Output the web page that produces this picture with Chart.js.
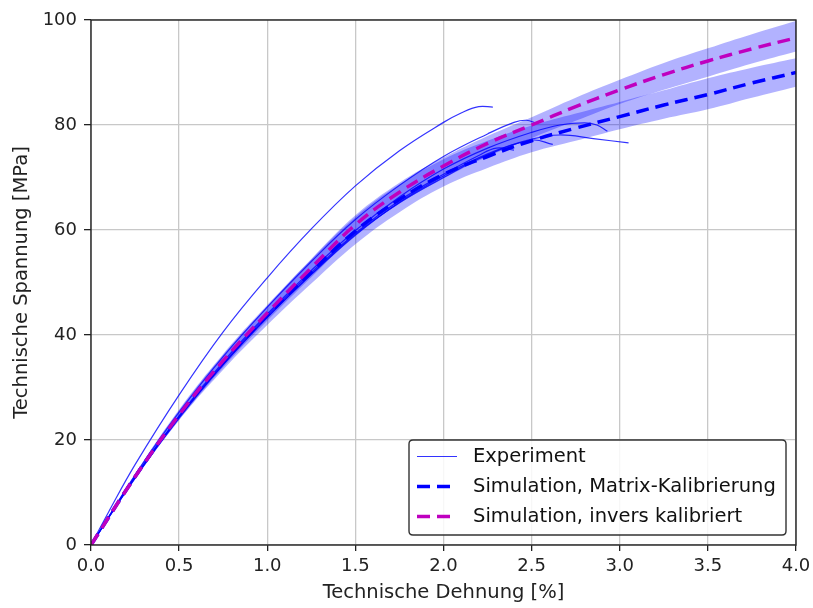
<!DOCTYPE html>
<html><head><meta charset="utf-8">
<script src="https://cdn.jsdelivr.net/npm/chart.js@4/dist/chart.umd.min.js"></script>
<style>html,body{margin:0;padding:0;background:#fff;}#wrap{width:813px;height:608px;}</style>
</head><body><div id="wrap"><canvas id="c" width="813" height="608"></canvas></div>
<script>
// ---------- data ----------
const xTickLabels = ['0.0','0.5','1.0','1.5','2.0','2.5','3.0','3.5','4.0'];
const yTickLabels = ['0','20','40','60','80','100'];

const simStrain      = [0, 0.25, 0.5, 0.75, 1.0, 1.25, 1.5, 1.75, 2.0, 2.25, 2.5, 2.75, 3.0, 3.25, 3.5, 3.75, 4.0];
const matrixSim      = [0, 13.0, 24.7, 34.8, 43.7, 52.0, 59.8, 65.8, 70.6, 74.0, 77.0, 79.4, 81.6, 83.8, 85.8, 88.0, 90.0];
const matrixLower    = [0, 12.5, 23.8, 33.4, 41.9, 49.8, 57.3, 63.4, 68.3, 71.8, 74.8, 77.0, 79.2, 81.2, 83.0, 85.2, 87.3];
const matrixUpper    = [0, 13.5, 25.6, 36.2, 45.5, 54.4, 62.5, 68.7, 73.5, 77.0, 79.9, 82.2, 84.4, 86.6, 88.9, 90.9, 92.7];
const inversSim      = [0, 13.0, 24.8, 35.1, 44.2, 52.8, 61.0, 67.2, 72.2, 76.5, 80.0, 83.5, 86.7, 89.6, 92.2, 94.5, 96.6];
const inversLower    = [0, 12.5, 23.8, 33.8, 42.7, 51.0, 59.0, 65.0, 69.8, 74.0, 77.5, 80.8, 84.0, 86.7, 89.2, 91.7, 94.0];
const inversUpper    = [0, 13.5, 25.8, 36.4, 45.7, 54.5, 62.8, 69.0, 73.8, 77.9, 81.5, 85.2, 88.6, 91.8, 94.6, 97.3, 99.8];

const exp1Strain = [0, 0.1, 0.25, 0.5, 0.75, 1.0, 1.25, 1.5, 1.75, 2.0, 2.1, 2.2, 2.28];
const exp1Stress = [0, 6.3, 15.3, 28.6, 40.6, 50.9, 60.2, 68.4, 75.1, 80.5, 82.3, 83.5, 83.4];
const exp2Strain = [0, 0.25, 0.5, 0.75, 1.0, 1.25, 1.5, 1.75, 2.0, 2.25, 2.4, 2.47, 2.53];
const exp2Stress = [0, 13.3, 25.3, 35.9, 45.3, 54.0, 62.0, 68.5, 74.0, 78.3, 80.5, 80.9, 80.3];
const exp3Strain = [0, 0.25, 0.5, 0.75, 1.0, 1.25, 1.5, 1.75, 2.0, 2.25, 2.5, 2.66, 2.8, 2.87, 2.93];
const exp3Stress = [0, 13.0, 24.6, 34.9, 44.0, 52.3, 59.9, 66.3, 71.6, 75.6, 78.6, 80.0, 80.4, 80.0, 78.8];
const exp4Strain = [0, 0.25, 0.5, 0.75, 1.0, 1.25, 1.5, 1.75, 2.0, 2.25, 2.5, 2.66, 2.85, 3.05];
const exp4Stress = [0, 12.8, 24.2, 34.3, 43.3, 51.5, 59.0, 65.3, 70.3, 74.5, 77.3, 78.1, 77.4, 76.6];
const exp5Strain = [0, 0.25, 0.5, 0.75, 1.0, 1.25, 1.5, 1.75, 2.0, 2.25, 2.5, 2.62];
const exp5Stress = [0, 12.8, 24.3, 34.4, 43.4, 51.6, 59.2, 65.2, 70.0, 74.3, 77.1, 76.3];
const exp6Strain = [0, 0.25, 0.5, 0.75, 1.0, 1.25, 1.5, 1.75, 2.0, 2.2, 2.3, 2.4];
const exp6Stress = [0, 13.0, 24.5, 34.6, 43.7, 51.9, 59.4, 65.6, 70.6, 74.2, 75.6, 75.2];

// ---------- build chart ----------
const pts = (xs, ys) => xs.map((x, i) => ({x: x, y: ys[i]}));
const FONT = "'DejaVu Sans', sans-serif";
const BAND = 'rgba(0,0,255,0.3)';
const EXP = 'rgba(0,0,255,0.8)';

const expSets = [
  [exp1Strain, exp1Stress], [exp2Strain, exp2Stress], [exp3Strain, exp3Stress],
  [exp4Strain, exp4Stress], [exp5Strain, exp5Stress], [exp6Strain, exp6Stress]
].map((e, i) => ({
  label: i === 0 ? 'Experiment' : '',
  legend: i === 0,
  data: pts(e[0], e[1]),
  borderColor: EXP, borderWidth: 1.2, pointRadius: 0, fill: false,
  tension: 0.4, order: 6
}));

const bandSet = (ys, fill) => ({
  label: '', data: pts(simStrain, ys), borderColor: 'rgba(0,0,0,0)', borderWidth: 0,
  pointRadius: 0, backgroundColor: BAND, fill: fill, tension: 0.4, order: 5
});

const datasets = [
  bandSet(matrixLower, false),
  bandSet(matrixUpper, '-1'),
  bandSet(inversLower, false),
  bandSet(inversUpper, '-1'),
  ...expSets,
  { label: 'Simulation, Matrix-Kalibrierung', legend: true, data: pts(simStrain, matrixSim),
    borderColor: '#0000ff', borderWidth: 3.5, borderDash: [13, 7], pointRadius: 0, fill: false,
    tension: 0.4, order: 2 },
  { label: 'Simulation, invers kalibriert', legend: true, data: pts(simStrain, inversSim),
    borderColor: '#bf00bf', borderWidth: 3.5, borderDash: [13, 7], pointRadius: 0, fill: false,
    tension: 0.4, order: 1 }
];

const framePlugin = {
  id: 'frame',
  afterDatasetsDraw(chart) {
    const {ctx, chartArea: a} = chart;
    ctx.save();
    ctx.strokeStyle = '#222'; ctx.lineWidth = 1.4;
    ctx.strokeRect(a.left, a.top, a.right - a.left, a.bottom - a.top);
    ctx.restore();
  },
  afterDraw(chart) {
    const {ctx} = chart;
    const items = chart.data.datasets.filter(d => d.legend);
    const bx = 409, by = 440, bw = 377, bh = 95, r = 4;
    ctx.save();
    ctx.beginPath();
    ctx.moveTo(bx + r, by); ctx.lineTo(bx + bw - r, by); ctx.quadraticCurveTo(bx + bw, by, bx + bw, by + r);
    ctx.lineTo(bx + bw, by + bh - r); ctx.quadraticCurveTo(bx + bw, by + bh, bx + bw - r, by + bh);
    ctx.lineTo(bx + r, by + bh); ctx.quadraticCurveTo(bx, by + bh, bx, by + bh - r);
    ctx.lineTo(bx, by + r); ctx.quadraticCurveTo(bx, by, bx + r, by);
    ctx.closePath();
    ctx.fillStyle = 'rgba(255,255,255,0.85)'; ctx.fill();
    ctx.strokeStyle = '#333'; ctx.lineWidth = 1.4; ctx.stroke();
    items.forEach((d, i) => {
      const y = 456.5 + i * 30;
      ctx.beginPath();
      ctx.strokeStyle = d.borderColor;
      ctx.lineWidth = d.borderWidth;
      ctx.setLineDash(d.borderDash || []);
      ctx.moveTo(417, y); ctx.lineTo(457, y); ctx.stroke();
      ctx.setLineDash([]);
      ctx.fillStyle = '#111';
      ctx.font = '19.5px ' + FONT;
      ctx.textBaseline = 'middle'; ctx.textAlign = 'left';
      ctx.fillText(d.label, 473, y);
    });
    ctx.restore();
  }
};

new Chart(document.getElementById('c'), {
  type: 'line',
  data: { datasets },
  options: {
    responsive: false, animation: false, devicePixelRatio: 1,
    layout: { padding: { top: 20, right: 17, left: 0, bottom: 0 } },
    plugins: { legend: { display: false }, tooltip: { enabled: false } },
    scales: {
      x: {
        type: 'linear', min: 0, max: 4,
        afterFit: s => { s.height = 63; s.paddingLeft = 0; s.paddingRight = 0; },
        afterBuildTicks: s => { s.ticks = xTickLabels.map(t => ({value: parseFloat(t)})); },
        ticks: { callback: (v) => xTickLabels.find(t => parseFloat(t) === v), font: { family: FONT, size: 18 }, color: '#222', padding: 5, maxRotation: 0 },
        grid: { color: '#c8c8c8', lineWidth: 1.3, tickColor: '#222', tickLength: 6, tickWidth: 1.3 },
        border: { display: false },
        title: { display: true, text: 'Technische Dehnung [%]', font: { family: FONT, size: 19.5 }, color: '#222', padding: { top: 0, bottom: 3 } }
      },
      y: {
        type: 'linear', min: 0, max: 100,
        afterFit: s => { s.width = 91; s.paddingTop = 0; s.paddingBottom = 0; },
        afterBuildTicks: s => { s.ticks = yTickLabels.map(t => ({value: parseFloat(t)})); },
        ticks: { callback: (v) => yTickLabels.find(t => parseFloat(t) === v), font: { family: FONT, size: 18 }, color: '#222', padding: 7 },
        grid: { color: '#c8c8c8', lineWidth: 1.3, tickColor: '#222', tickLength: 7, tickWidth: 1.3 },
        border: { display: false },
        title: { display: true, text: 'Technische Spannung [MPa]', font: { family: FONT, size: 19.5 }, color: '#222', padding: { top: 10, bottom: 0 } }
      }
    }
  },
  plugins: [framePlugin]
});
</script></body></html>
